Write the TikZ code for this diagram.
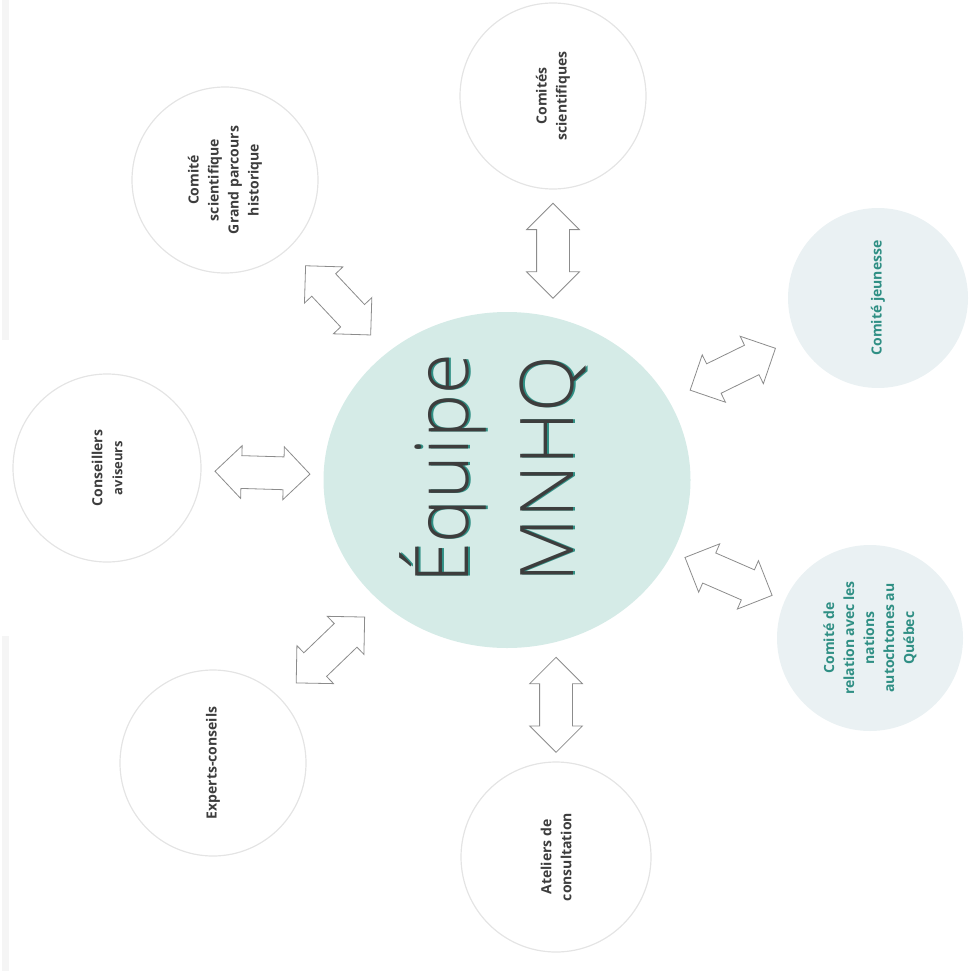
\documentclass[tikz,border=0pt]{standalone}
\usepackage{fontspec}
\setmainfont{Open Sans}
\newfontfamily\titlefont{Open Sans Light}
\usepackage{tikz}
\usetikzlibrary{positioning, calc, shapes.geometric, shapes.arrows}

\definecolor{mnhqfill}{HTML}{D5EBE7}
\definecolor{palefill}{HTML}{EAF1F3}
\definecolor{rimgray}{HTML}{E4E4E4}
\definecolor{inkgray}{HTML}{3D3D3D}
\definecolor{tealtext}{HTML}{2F8F84}
\definecolor{arrowgray}{HTML}{8C8C8C}

\tikzset{
  partner/.style={circle, draw=rimgray, line width=1.2pt, minimum size=186pt, inner sep=0pt,
    rotate=90, align=center, text=inkgray, font=\bfseries\fontsize{14}{20}\selectfont},
  youthpartner/.style={partner, draw=none, fill=palefill, text=tealtext},
  dblarrow/.style={double arrow, draw=arrowgray, line width=0.8pt, fill=white,
    minimum height=95pt, inner xsep=0pt, inner ysep=16pt, double arrow head extend=10pt}
}

\begin{document}
\begin{tikzpicture}[x=1pt, y=-1pt]

    \useasboundingbox (0,0) rectangle (976,971);

    % Scan edge on the left
    \fill[gray!8] (2,0) rectangle (9,340);
    \fill[gray!8] (2,636) rectangle (9,971);

    % Central team
    \node[ellipse, fill=mnhqfill, minimum width=367pt, minimum height=336pt] (mnhq) at (507,480) {};
    \node[rotate=90, align=center, text=tealtext, font=\titlefont\fontsize{74}{105}\selectfont]
        (mnhqshadow) at (494.5,469) {Équipe\\MNHQ};
    \node[rotate=90, align=center, text=inkgray, font=\titlefont\fontsize{74}{105}\selectfont]
        (mnhqtext) at (493,469) {Équipe\\MNHQ};

    % Surrounding committees (rotated, so west is the bottom side)
    \node[partner] (sci) at (553,96) {Comités\\scientifiques};
    \node[partner] (grand) at (225,180) {Comité\\scientifique\\Grand parcours\\historique};
    \node[partner, minimum size=188pt] (conseil) at (107,468)
        {Conseillers\\{\fontsize{13}{18}\selectfont aviseurs}};
    \node[partner] (experts) at (213,763) {Experts-conseils};
    \node[partner, minimum size=190pt] (ateliers) at (556,857) {Ateliers de\\consultation};
    \node[youthpartner] (relation) at (870,638)
        {Comité de\\relation avec les\\nations\\autochtones au\\Québec};
    \node[youthpartner, minimum size=180pt] (jeunesse) at (878,298) {Comité jeunesse};

    % Two-way links
    \foreach \other in {grand, conseil, experts, relation, jeunesse}
        \path (mnhq) -- (\other) node[midway, sloped, dblarrow] {};
    \path (sci.west) -- (sci.west |- mnhq.north) node[midway, sloped, dblarrow] {};
    \path (ateliers.east) -- (ateliers.east |- mnhq.south) node[midway, sloped, dblarrow] {};

\end{tikzpicture}
\end{document}
